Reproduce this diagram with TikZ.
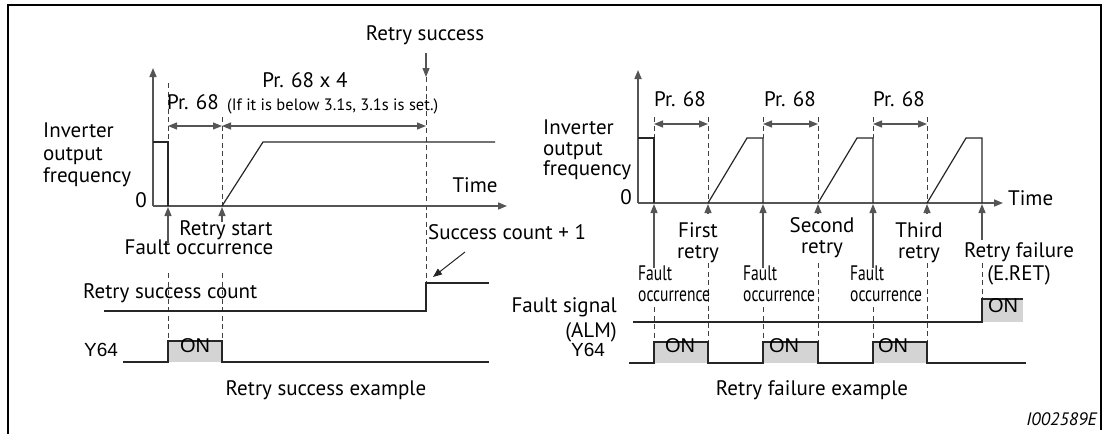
\documentclass[tikz,border=0pt]{standalone}
\usepackage{fontspec}
\setmainfont{PT Sans}
\newfontfamily\arialf{Liberation Sans}
\usetikzlibrary{arrows.meta}
\definecolor{axc}{RGB}{85,85,85}
\definecolor{onfill}{RGB}{212,212,212}
\begin{document}
\begin{tikzpicture}[x=1pt,y=-1pt,
  font=\fontsize{21}{24}\selectfont,
  ax/.style={draw=axc, line width=1.6pt},
  wave/.style={draw=black!85, line width=1.2pt},
  dsh/.style={draw=black!75, line width=0.9pt, dash pattern=on 5pt off 3.5pt},
  tip/.style={-{Triangle[length=9pt,width=7pt]}},
  dim/.style={{Triangle[length=9pt,width=7pt]}-{Triangle[length=9pt,width=7pt]}, draw=axc, line width=1.2pt},
  lbl/.style={inner sep=0pt, anchor=mid},
  blk/.style={inner sep=0pt},
  arf/.style={font=\arialf\fontsize{19}{21}\selectfont},
  onfont/.style={font=\arialf\fontsize{20}{22}\selectfont},
  cond/.style={inner sep=0pt, anchor=west, align=left, font=\fontsize{21}{21}\selectfont},
]
\useasboundingbox (0,0) rectangle (1105,434);
% frame
\draw[line width=2.5pt] (8,434) coordinate (fbl) -- (8,5) coordinate (ftl) -- (1101,5) coordinate (ftr) -- (1101,430) coordinate (fbr);

%================ LEFT: retry success =================
\coordinate (LO) at (153,206);
\coordinate (LYt) at (153,68);
\coordinate (LXt) at (507,206);
% ON box fill
\fill[onfill] (168,341) rectangle (222,362);
% dashed guides
\draw[dsh] (168,83) -- (168,142);
\draw[dsh] (222,117) -- (222,206);
\draw[dsh] (168,273) -- (168,341);
\draw[dsh] (222,273) -- (222,341);
\draw[dsh] (426,77) -- (426,283);
% axes
\draw[ax,tip] (LO) -- (LYt);
\draw[ax,tip] (LO) -- (LXt);
% frequency
\draw[wave] (153,142) -- (168,142) -- (168,206);
\draw[wave] (222,206) -- (263,142) -- (495,142);
% dimension arrows
\coordinate (d1a) at (168,126); \coordinate (d1b) at (222,126); \coordinate (d1c) at (426,126);
\draw[dim] (d1a) -- (d1b);
\draw[dim] (d1b) -- (d1c);
% retry success arrow
\coordinate (rsA) at (426,53); \coordinate (rsB) at (426,77);
\draw[axc, line width=1.2pt, tip] (rsA) -- (rsB);
% up arrows
\coordinate (fo1) at (168,243); \coordinate (fo1t) at (168,207);
\coordinate (rs1) at (222,222); \coordinate (rs1t) at (222,207);
\draw[axc, line width=1.2pt, tip] (fo1) -- (fo1t);
\draw[axc, line width=1.2pt, tip] (rs1) -- (rs1t);
% success count
\draw[wave] (104,311) -- (426,311) -- (426,283) -- (489,283);
\coordinate (scA) at (465,252); \coordinate (scB) at (433,277);
\draw[black!85, line width=1pt, tip] (scA) -- (scB);
% Y64
\draw[wave] (123,362) -- (168,362) -- (168,341) -- (222,341) -- (222,362) -- (489,362);

% labels left
\node[lbl] (pr1) at (193,107) {Pr. 68};
\node[lbl, anchor=mid west, font=\fontsize{16.5}{18}\selectfont] (note) at (227,108) {(If it is below 3.1s, 3.1s is set.)};
\node[lbl] (prx4) at (305,85) {Pr. 68 x 4};
\node[lbl] (rsucc) at (425,38) {Retry success};
\node[blk, anchor=west, align=left, font=\fontsize{21}{22.5}\selectfont] (invL) at (43,155) {Inverter\\output\\frequency};
\node[lbl, anchor=mid east] (zeroL) at (147,205) {0};
\node[lbl] (timeL) at (475,190) {Time};
\node[lbl] (rstart) at (226,233) {Retry start};
\node[lbl] (faultL) at (199,252) {Fault occurrence};
\node[lbl, anchor=mid west] (rscount) at (83,296) {Retry success count};
\node[lbl, anchor=mid west] (scplus) at (428,237) {Success count + 1};
\node[lbl, arf] (y64L) at (101,354) {Y64};
\node[lbl, onfont] (onL) at (195,350) {ON};
\node[lbl] (capL) at (326,393) {Retry success example};

%================ RIGHT: retry failure =================
\coordinate (RO) at (638,203);
\coordinate (RYt) at (638,70);
\coordinate (RXt) at (1003,203);
% ON fills
\fill[onfill] (654,342) rectangle (708,363);
\fill[onfill] (763,342) rectangle (818,363);
\fill[onfill] (873,342) rectangle (927,363);
\fill[onfill] (982,299) rectangle (1023,322);
% dashed guides above
\foreach \x in {654,763,873} {\draw[dsh] (\x,117) -- (\x,138);}
\foreach \x in {708,818,927} {\draw[dsh] (\x,117) -- (\x,203);}
% dashed guides below
\foreach \x in {654,763,873} {\draw[dsh] (\x,307) -- (\x,342);}
\foreach \x in {708,818,927} {\draw[dsh] (\x,263) -- (\x,342);}
\draw[dsh] (982,263) -- (982,299);
% axes
\draw[ax,tip] (RO) -- (RYt);
\draw[ax,tip] (RO) -- (RXt);
% frequency
\draw[wave] (638,138) -- (654,138) -- (654,203);
\draw[wave] (708,203) -- (747,138) -- (763,138) -- (763,203);
\draw[wave] (818,203) -- (857,138) -- (873,138) -- (873,203);
\draw[wave] (927,203) -- (966,138) -- (982,138) -- (982,203);
% dimension arrows
\coordinate (e1a) at (654,124); \coordinate (e1b) at (708,124);
\coordinate (e2a) at (763,124); \coordinate (e2b) at (818,124);
\coordinate (e3a) at (873,124); \coordinate (e3b) at (927,124);
\draw[dim] (e1a) -- (e1b);
\draw[dim] (e2a) -- (e2b);
\draw[dim] (e3a) -- (e3b);
% up arrows
\foreach \x in {654,763,873} {\draw[axc, line width=1.2pt, tip] (\x,268) -- (\x,204);}
\foreach \x in {708,818,927} {\draw[axc, line width=1.2pt, tip] (\x,214) -- (\x,204);}
\coordinate (rf) at (982,240); \coordinate (rft) at (982,204);
\draw[axc, line width=1.2pt, tip] (rf) -- (rft);
% ALM
\draw[wave] (633,322) -- (982,322) -- (982,299) -- (1023,299);
% Y64
\draw[wave] (629,363) -- (654,363) -- (654,342) -- (708,342) -- (708,363)
  -- (763,363) -- (763,342) -- (818,342) -- (818,363)
  -- (873,363) -- (873,342) -- (927,342) -- (927,363) -- (1026,363);

% labels right
\node[blk, anchor=west, align=left, font=\fontsize{21}{20.5}\selectfont] (invR) at (543,150) {Inverter\\output\\frequency};
\node[lbl, anchor=mid east] (zeroR) at (632,202) {0};
\node[lbl, anchor=mid west] (timeR) at (1008,203) {Time};
\node[lbl] (prA) at (680,104) {Pr. 68};
\node[lbl] (prB) at (790,104) {Pr. 68};
\node[lbl] (prC) at (899,104) {Pr. 68};
\node[blk, align=center, font=\fontsize{21}{21}\selectfont] (first) at (698,242.5) {First\\retry};
\node[blk, align=center, font=\fontsize{21}{21}\selectfont] (second) at (822,237.5) {Second\\retry};
\node[blk, align=center, font=\fontsize{21}{21}\selectfont] (third) at (919,242.5) {Third\\retry};
\node[blk, align=center, font=\fontsize{21}{23}\selectfont] (rfail) at (1019,263.5) {Retry failure\\(E.RET)};
\node[cond] (fA) at (638,283.5) {\scalebox{0.74}[1]{Fault}\\\scalebox{0.74}[1]{occurrence}};
\node[cond] (fB) at (743,283.5) {\scalebox{0.74}[1]{Fault}\\\scalebox{0.74}[1]{occurrence}};
\node[cond] (fC) at (850,283.5) {\scalebox{0.74}[1]{Fault}\\\scalebox{0.74}[1]{occurrence}};
\node[blk, anchor=east, align=right, font=\fontsize{21}{25}\selectfont] (alm) at (617,319.5) {Fault signal\\(ALM)};
\node[lbl, arf] (y64R) at (588,354) {Y64};
\node[lbl, onfont] (onA) at (680,350) {ON};
\node[lbl, onfont] (onB) at (784,350) {ON};
\node[lbl, onfont] (onC) at (893,350) {ON};
\node[lbl, onfont] (onD) at (1003,310) {ON};
\node[lbl] (capR) at (812,393) {Retry failure example};
\node[lbl, anchor=mid east, font=\itshape\fontsize{18}{20}\selectfont] (code) at (1097,423) {I002589E};
\end{tikzpicture}
\end{document}
